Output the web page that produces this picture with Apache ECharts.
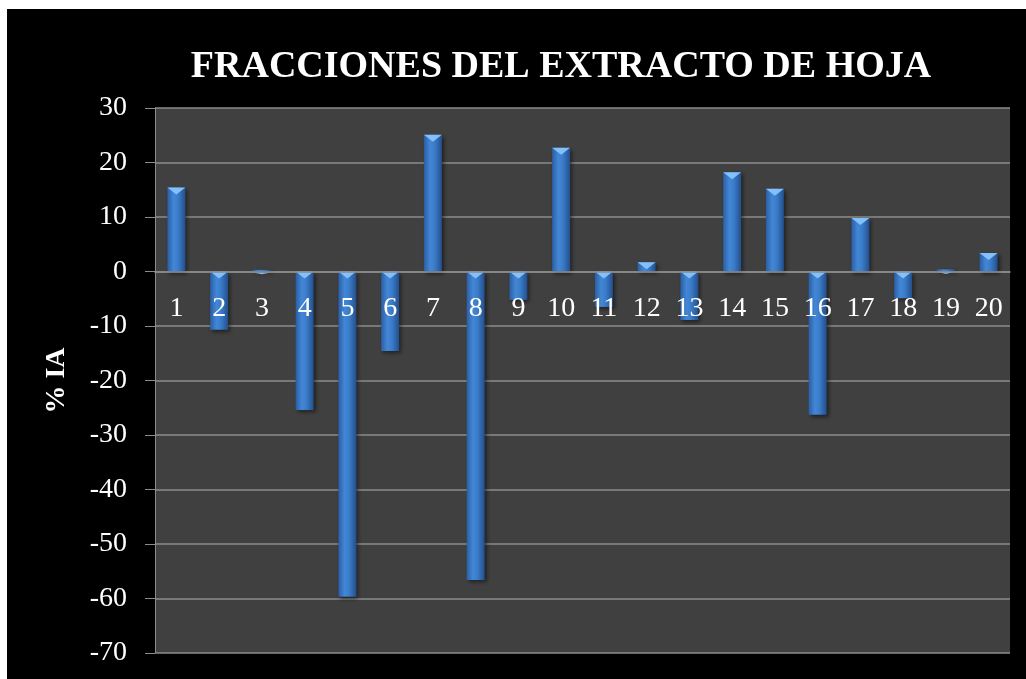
<!DOCTYPE html>
<html>
<head>
<meta charset="utf-8">
<script src="https://cdn.jsdelivr.net/npm/echarts@6/dist/echarts.min.js"></script>
<style>
html,body{margin:0;padding:0;background:#fff;}
#c{position:absolute;left:7px;top:9px;width:1019px;height:670px;}
</style>
</head>
<body>
<div id="c"></div>
<script>
const categories = ['1','2','3','4','5','6','7','8','9','10','11','12','13','14','15','16','17','18','19','20'];
const values = [15.4,-10.7,0.3,-25.4,-59.7,-14.6,25.1,-56.6,-5.2,22.7,-6.5,1.7,-8.9,18.2,15.2,-26.3,9.8,-4.9,0.4,3.4];
const yTicks = {min:-70, max:30, interval:10};
const titleText = 'FRACCIONES DEL EXTRACTO DE HOJA';
const yName = '% IA';

const capData = values.map(v => Math.max(v, 0));
const chart = echarts.init(document.getElementById('c'));
const serif = '"Liberation Serif","DejaVu Serif",serif';
const gridH = 545;
const pxPerUnit = gridH / (yTicks.max - yTicks.min);
const zeroFromBottom = (0 - yTicks.min) * pxPerUnit;
chart.setOption({
  backgroundColor:'#000',
  animation:false,
  title:{text:titleText,left:549,textAlign:'center',top:34,
    textStyle:{color:'#fff',fontFamily:serif,fontWeight:'bold',fontSize:38}},
  grid:{left:148,top:99,width:855,height:gridH,show:true,backgroundColor:'#404040',borderWidth:0,
    outerBoundsMode:'none',containLabel:false},
  xAxis:{type:'category',data:categories,position:'bottom',offset:-zeroFromBottom,z:10,
    axisLine:{onZero:false,lineStyle:{color:'#8c8c8c',width:1.5}},
    axisTick:{show:false},
    axisLabel:{color:'#fff',fontFamily:serif,fontSize:28,margin:23,interval:0}},
  yAxis:{type:'value',min:yTicks.min,max:yTicks.max,interval:yTicks.interval,
    name:yName,nameLocation:'middle',nameGap:84,nameRotate:90,
    nameTextStyle:{color:'#fff',fontFamily:serif,fontWeight:'bold',fontSize:28},
    axisLine:{show:true,lineStyle:{color:'#8c8c8c'}},
    axisTick:{show:true,length:10,lineStyle:{color:'#8c8c8c'}},
    axisLabel:{color:'#fff',fontFamily:serif,fontSize:28,margin:28},
    splitLine:{lineStyle:{color:'#8c8c8c',width:1.5}}},
  series:[
    {type:'bar',data:values,barWidth:18,
     itemStyle:{color:new echarts.graphic.LinearGradient(0,0,1,0,[
       {offset:0,color:'#2b5ea3'},{offset:0.35,color:'#4287d6'},{offset:0.6,color:'#3a7cc9'},{offset:1,color:'#244f8c'}]),
       shadowColor:'rgba(0,0,0,0.5)',shadowBlur:4,shadowOffsetX:2,shadowOffsetY:2}},
    {type:'scatter',data:capData,symbol:'path://M0,0L20,0L10,7Z',
     symbolSize:function(val, params){const h=Math.min(7, Math.abs(values[params.dataIndex])*pxPerUnit); return [18, h];},
     symbolOffset:[0,3.5],
     itemStyle:{color:'#8cc8ff',opacity:0.9},z:3,silent:true}
  ]
});
</script>
</body>
</html>
